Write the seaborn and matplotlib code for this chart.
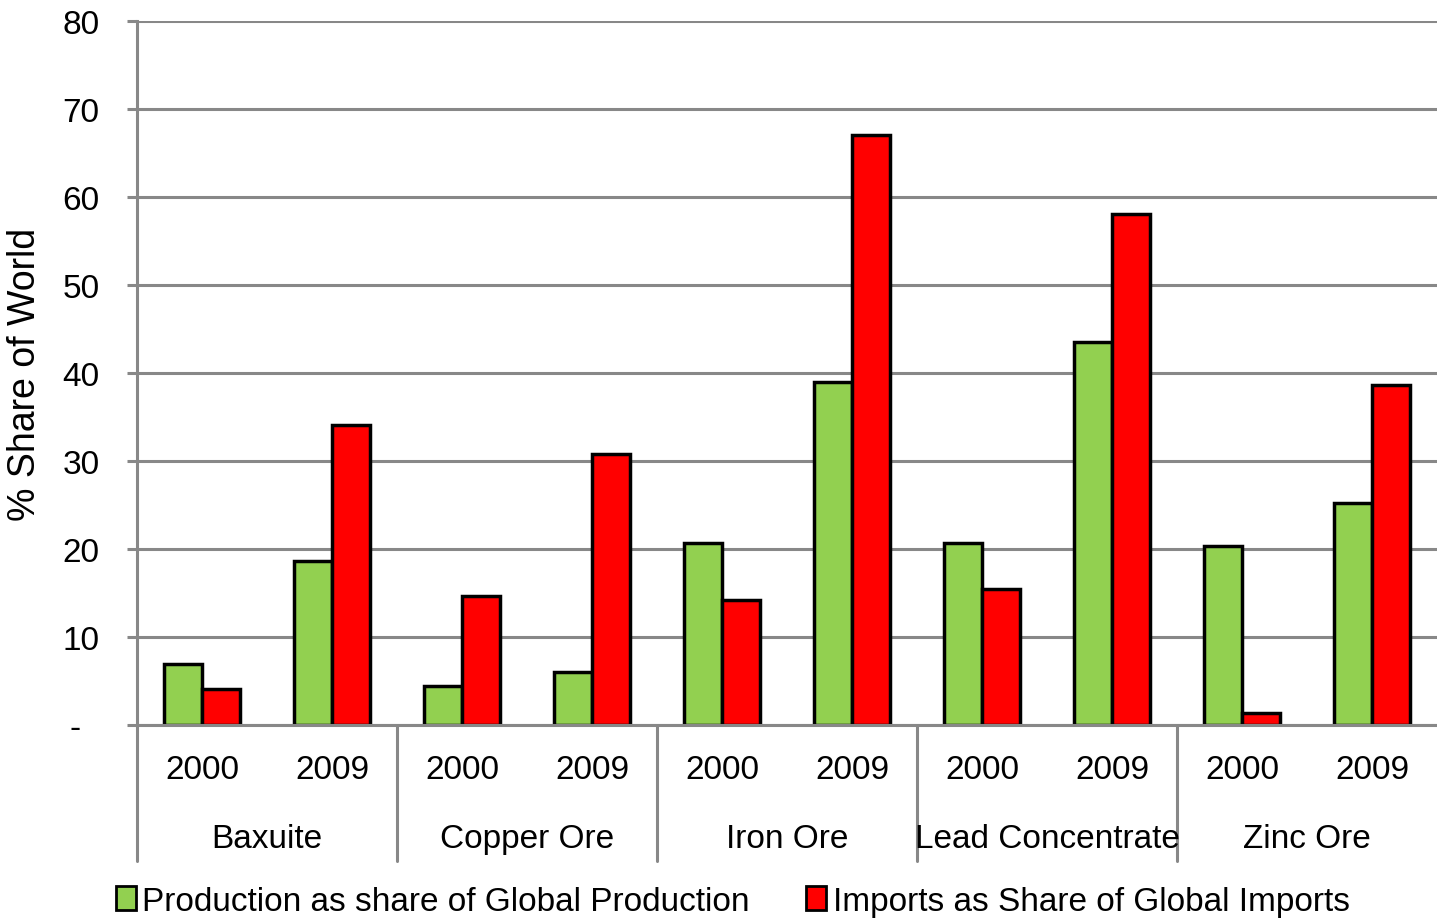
import pandas as pd
import matplotlib
matplotlib.use("Agg")
import matplotlib.pyplot as plt
import matplotlib.transforms as mtransforms
from matplotlib.patches import Patch
import seaborn as sns

# Datos
minerales = ["Baxuite", "Copper Ore", "Iron Ore", "Lead Concentrate", "Zinc Ore"]
anios = ["2000", "2009"]
produccion = [6.9, 18.6, 4.4, 6.0, 20.7, 39.0, 20.7, 43.5, 20.3, 25.2]
importaciones = [4.1, 34.1, 14.7, 30.8, 14.2, 67.0, 15.5, 58.1, 1.4, 38.6]
series = ["Production as share of Global Production", "Imports as Share of Global Imports"]
colores = ["#92D050", "#FF0000"]
yticks = [0, 10, 20, 30, 40, 50, 60, 70, 80]
ytick_labels = ["-  ", "10", "20", "30", "40", "50", "60", "70", "80"]

slots = [f"{m} {a}" for m in minerales for a in anios]
df = pd.DataFrame({
    "slot": slots * 2,
    "valor": produccion + importaciones,
    "serie": [series[0]] * len(slots) + [series[1]] * len(slots),
})

sns.set_style("white")
plt.rcParams["font.family"] = ["Liberation Sans", "DejaVu Sans"]
plt.rcParams["text.color"] = "black"
plt.rcParams["axes.labelcolor"] = "black"
plt.rcParams["ytick.labelcolor"] = "black"

fig = plt.figure(figsize=(14.37, 9.2), dpi=100)
ax = fig.add_axes([137 / 1437, 1 - 726 / 920, 1300 / 1437, 704 / 920])

sns.barplot(data=df, x="slot", y="valor", hue="serie", order=slots, hue_order=series,
            palette=colores, width=0.59, edgecolor="black", linewidth=2.5,
            saturation=1, ax=ax, legend=False)

gris = "#888888"
ax.set_xlim(-0.5, len(slots) - 0.5)
ax.set_ylim(0, 80)
ax.set_yticks(yticks)
ax.set_yticklabels(ytick_labels, fontsize=24)
ax.yaxis.grid(True, color=gris, linewidth=2.2)
ax.set_axisbelow(True)
for s in ["top", "right"]:
    ax.spines[s].set_visible(False)
ax.spines["left"].set_color(gris)
ax.spines["left"].set_linewidth(2.2)
ax.spines["bottom"].set_color(gris)
ax.spines["bottom"].set_linewidth(2.2)
ax.tick_params(axis="y", length=7, width=2.2, color=gris, pad=20, left=True)
ax.tick_params(axis="x", length=0)
ax.set_xticks(range(len(slots)))
ax.set_xticklabels([])
ax.set_xlabel("")
ax.set_ylabel("% Share of World", fontsize=27, labelpad=14)

# Eje x de dos niveles
trans = mtransforms.blended_transform_factory(ax.transData, ax.transAxes)
for i, s in enumerate(slots):
    ax.text(i, -45 / 704, s.split(" ")[-1], transform=trans, ha="center", va="center", fontsize=24)
for j, m in enumerate(minerales):
    ax.text(2 * j + 0.5, -114 / 704, m, transform=trans, ha="center", va="center", fontsize=24)
    ax.plot([2 * j - 0.5, 2 * j - 0.5], [0, -136 / 704], transform=trans, color=gris,
            linewidth=2.2, clip_on=False)

handles = [Patch(facecolor=c, edgecolor="black", linewidth=2) for c in colores]
fig.legend(handles, series, loc="lower center", bbox_to_anchor=(0.51, -0.03), ncol=2,
           frameon=False, fontsize=24, handlelength=0.6, handleheight=0.75,
           handletextpad=0.2, columnspacing=1.7)

fig.savefig("out.png", dpi=100)
